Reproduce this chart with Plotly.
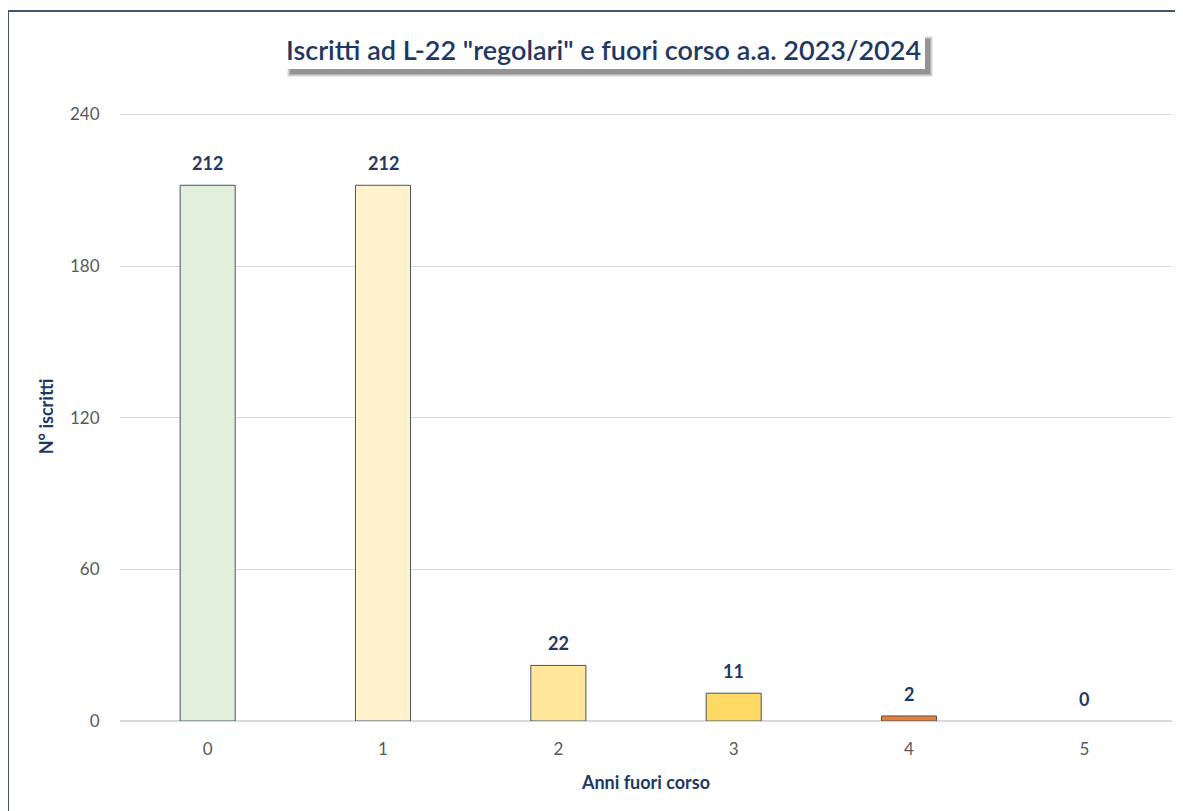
import plotly.graph_objects as go

# dati
anni = ["0", "1", "2", "3", "4", "5"]
iscritti = [212, 212, 22, 11, 2, 0]
colori = ["#E2EFDA", "#FFF2CC", "#FFE699", "#FFD966", "#ED7D31", "#ED7D31"]
y_ticks = [0, 60, 120, 180, 240]

navy = "#1F3864"
font_fam = "Lato, 'Noto Sans', sans-serif"

# the page has an 8px body margin, so everything is placed 8px up/left
L, T, R, B = 112, 104, 19, 98
pw = 1183 - L - R
ph = 811 - T - B
ymax = 241


def px_x(p):
    return (p - 8 - L) / pw


def px_y(p):
    return (811 - B - (p - 8)) / ph


fig = go.Figure()
fig.add_trace(go.Bar(
    x=anni,
    y=iscritti,
    width=0.314,
    marker=dict(color=colori,
                line=dict(color="#44546A", width=[1 if v > 0 else 0 for v in iscritti])),
    cliponaxis=False,
))

# etichette dei valori
for a, v in zip(anni, iscritti):
    fig.add_annotation(
        x=a, y=v, text=str(v), showarrow=False,
        yanchor="bottom", yshift=9,
        font=dict(family=font_fam, size=18, color=navy, weight="bold"),
    )

fig.update_layout(
    width=1183,
    height=811,
    margin=dict(l=L, r=R, t=T, b=B),
    plot_bgcolor="white",
    paper_bgcolor="white",
    showlegend=False,
    font=dict(family=font_fam),
    xaxis=dict(
        type="category",
        tickfont=dict(size=17, color="#595959"),
        showgrid=False,
        showline=False,
        ticks="outside",
        ticklen=13,
        tickcolor="white",
        title=dict(text="Anni fuori corso", font=dict(size=18, color=navy, weight="bold"), standoff=17),
    ),
    yaxis=dict(
        range=[0, ymax],
        tickvals=y_ticks,
        tickfont=dict(size=17, color="#595959"),
        gridcolor="#D9D9D9",
        gridwidth=1,
        zeroline=True,
        zerolinecolor="#D9D9D9",
        zerolinewidth=2,
        ticks="outside",
        ticklen=16,
        tickcolor="white",
        title=dict(text="N° iscritti", font=dict(size=18, color=navy, weight="bold"), standoff=11),
    ),
)

# cornice del grafico
fig.add_shape(type="rect", xref="paper", yref="paper",
              x0=px_x(8), x1=1.3, y0=-0.4, y1=px_y(11),
              line=dict(color="#44546A", width=2), fillcolor="rgba(0,0,0,0)", layer="below")

# ombra del titolo (sfumata)
for i, op in enumerate([0.12, 0.18, 0.25, 0.35]):
    fig.add_shape(type="rect", xref="paper", yref="paper",
                  x0=px_x(287 + i), x1=px_x(933 - i),
                  y0=px_y(77 - i), y1=px_y(36 + i),
                  line=dict(width=0), fillcolor="rgba(90,90,90,%.2f)" % op, layer="above")

# titolo in riquadro bianco
fig.add_shape(type="rect", xref="paper", yref="paper",
              x0=px_x(283), x1=px_x(925), y0=px_y(69), y1=px_y(29),
              line=dict(width=0), fillcolor="white", layer="above")

fig.add_annotation(
    text='Iscritti ad L-22 "regolari" e fuori corso a.a. 2023/2024',
    xref="paper", yref="paper",
    x=px_x(603), y=px_y(49),
    xanchor="center", yanchor="middle",
    showarrow=False,
    font=dict(size=27, color=navy, family=font_fam, weight=600),
)

fig.write_html("out.html")
